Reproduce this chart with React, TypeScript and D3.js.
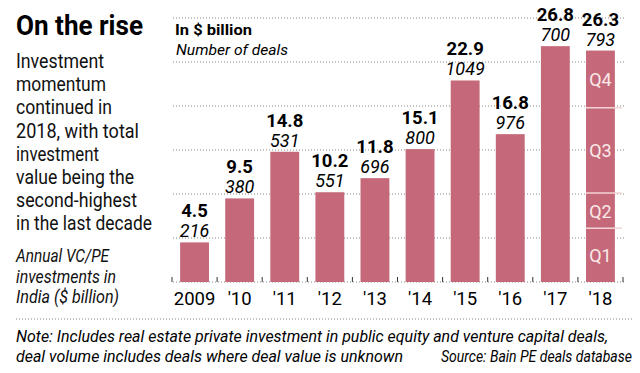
import React from 'react';
import { scaleBand, scaleLinear, range, cumsum } from 'd3';

// chart values
const years = ['2009', "'10", "'11", "'12", "'13", "'14", "'15", "'16", "'17", "'18"];
const values = [4.5, 9.5, 14.8, 10.2, 11.8, 15.1, 22.9, 16.8, 26.8, 26.3];
const deals = [216, 380, 531, 551, 696, 800, 1049, 976, 700, 793];
const quarters = ['Q1', 'Q2', 'Q3', 'Q4'];
const quarterValues2018 = [6.1, 4.0, 9.7, 6.5];
const yTicks = [0, 5, 10, 15, 20, 25, 30];

// left column text, with the width each line takes in the original (narrow font)
const descLines = ['Investment', 'momentum', 'continued in', '2018, with total', 'investment', 'value being the', 'second-highest', 'in the last decade'];
const descWidths = [88, 90, 96, 123, 83, 118, 121, 136];
const subLines = ['Annual VC/PE', 'investments in', 'India ($ billion)'];
const subWidths = [93, 100, 103];

const FONT = "Roboto, 'Liberation Sans', sans-serif";
const BAR = '#c5697a';

// squeeze text to a fixed width, stands in for the condensed face
const Narrow = (p: any) => <text lengthAdjust="spacingAndGlyphs" {...p} />;

function App() {
  const x = scaleBand<string>().domain(years).range([172, 623]).paddingInner(0.36).paddingOuter(0.18);
  const y = scaleLinear().domain([0, 30]).range([282, 18]);
  const step = x.step();
  const bounds = range(years.length + 1).map(i => x(years[0])! - step * 0.18 + i * step);
  const qTops = Array.from(cumsum(quarterValues2018));
  const last = years[years.length - 1];

  return (
    <svg width={640} height={373} style={{ position: 'absolute', left: 0, top: 0, background: '#fff' }} fontFamily={FONT}>
      <Narrow x={16} y={35} fontSize={28} fontWeight="bold" textLength={127}>On the rise</Narrow>
      {descLines.map((l, i) => (
        <Narrow key={l} x={16} y={68 + i * 23.2} fontSize={21} fill="#111" textLength={descWidths[i]}>{l}</Narrow>
      ))}
      {subLines.map((l, i) => (
        <Narrow key={l} x={16} y={262 + i * 20.5} fontSize={18} fontStyle="italic" fill="#111" textLength={subWidths[i]}>{l}</Narrow>
      ))}

      {/* grid */}
      {yTicks.map(t => (
        <line key={t} x1={173} x2={626} y1={y(t)} y2={y(t)} stroke="#888" strokeWidth={1} strokeDasharray="1,2" />
      ))}
      {bounds.map((b, i) => (
        <line key={i} x1={b} x2={b} y1={y(0) - 5} y2={y(0)} stroke="#333" strokeWidth={1} />
      ))}

      <Narrow x={175} y={35} fontSize={15} fontWeight="bold" textLength={77}>In $ billion</Narrow>
      <Narrow x={176} y={55} fontSize={15} fontStyle="italic" textLength={112}>Number of deals</Narrow>

      {years.map((yr, i) => (
        <g key={yr}>
          <rect x={x(yr)} y={y(values[i])} width={x.bandwidth()} height={y(0) - y(values[i])} fill={BAR} />
          <text x={x(yr)! + x.bandwidth() / 2} y={y(values[i]) - 25} fontSize={18.5} fontWeight="bold" textAnchor="middle">{values[i]}</text>
          <text x={x(yr)! + x.bandwidth() / 2} y={y(values[i]) - 5} fontSize={18} fontStyle="italic" textAnchor="middle">{deals[i]}</text>
          <text x={x(yr)! + x.bandwidth() / 2} y={305} fontSize={18.5} textAnchor="middle">{yr}</text>
        </g>
      ))}

      {quarters.map((q, i) => {
        const top = qTops[i];
        const bottom = i === 0 ? 0 : qTops[i - 1];
        return (
          <g key={q}>
            {i < quarters.length - 1 && (
              <line x1={x(last)} x2={x(last)! + x.bandwidth() + 7} y1={y(top)} y2={y(top)} stroke="#f3d3d6" strokeWidth={1.5} />
            )}
            <text x={x(last)! + x.bandwidth() / 2} y={(y(top) + y(bottom)) / 2 + 7} fontSize={18} fill="#fbe9ea" textAnchor="middle">{q}</text>
          </g>
        );
      })}

      <line x1={16} x2={632} y1={319} y2={319} stroke="#888" strokeDasharray="1,2" />
      <Narrow x={16} y={342} fontSize={17} fontStyle="italic" textLength={592}>Note: Includes real estate private investment in public equity and venture capital deals,</Narrow>
      <Narrow x={16} y={362} fontSize={17} fontStyle="italic" textLength={387}>deal volume includes deals where deal value is unknown</Narrow>
      <Narrow x={441} y={362} fontSize={17} fontStyle="italic" textLength={191}>Source: Bain PE deals database</Narrow>
    </svg>
  );
}

export default App;
